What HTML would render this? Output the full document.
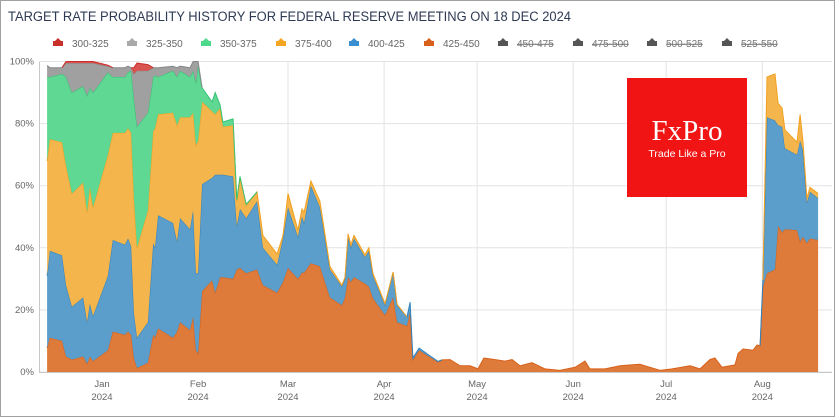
<!DOCTYPE html>
<html><head><meta charset="utf-8"><style>
html,body{margin:0;padding:0;background:#fff;}
#wrap{position:relative;width:835px;height:417px;overflow:hidden;font-family:"Liberation Sans",sans-serif;}
svg{position:absolute;left:0;top:0;}
</style></head><body>
<div id="wrap">
<svg id="chart" width="835" height="417"></svg>
</div>
<script>
const days=[-17.7,-16.8,-12.9,-11.6,-9.7,-6.1,-4.8,-3.9,-2.9,1.9,3.5,7.4,8.4,9.4,10.3,11.3,14.8,16.5,17.1,18.1,22.9,24.2,25.2,28.4,29.4,30.3,31,32.3,35.5,36.5,38.1,39,42.3,43.5,44.5,46.5,50,51.9,56.5,58.4,60,63.2,64.5,65.2,67.4,70.3,73.5,77.4,78.4,79.4,80.3,81.3,84.8,86.1,87.4,91.3,93.9,95.2,98.4,99.4,100.3,102.3,105.8,108.4,109.7,112.3,115.5,118.7,121.3,123.2,126.8,130,132.3,134.8,138.7,142.9,147.7,152.6,155.8,157.4,162.3,167.1,173.5,180,183.9,189.7,192.9,196.1,197.7,200,204.2,205.2,206.8,210,211.3,212.3,213.2,214.5,217.1,218.1,219.4,220.3,224.2,225.2,226.1,227.4,228.4,231];
const s425=[7.7,11,10,5,4,5,2.6,5,3.5,7,13,12,13,12,4.5,1.3,3,12,11,14,11,13,16,13.5,17.7,7,6,26,29.5,25.5,30.5,30.5,30,33,33.5,31.8,33,28,25.5,29,33.5,30,32,32,35,34,24,21.5,24,30.5,29,30.5,28.5,27.5,23.8,18.3,24,16,14.8,19.3,3.9,7,4.8,3.2,3.9,4,2,2,1,4.5,4,3.5,4,2,3,1,0.5,1.5,3.5,1,1,2,2.5,0.5,1,2,1,4,4.5,1.5,2.3,6,7.4,7,8.7,8.5,27.5,31.8,33,47,45,46,45.7,42,43.5,41.5,43,42.5];
const s400=[23.3,28,27.6,23,17,19,13.4,17,14.5,24,29.5,29,30,28.5,14.5,9.7,13,29.5,29,36.5,37,29,33.5,32.5,34.3,24.8,25.8,34.5,33,38,33,33,33,14,19,17.7,22,12,9,14,19.5,13.5,18,16,25,19,9,6,6,13,11,12.5,8.5,11.5,7.2,3.2,8,5.5,2.9,3.2,0.6,0.7,0.4,0.2,0,0,0,0,0,0,0,0,0,0,0,0,0,0,0,0,0,0,0,0,0,0,0,0,0,0,0,0,0,0,0,0,2.1,50.2,48,32.5,34,26,24.3,32.5,28,13,15,13.5];
const s375=[37,36,36.4,38.5,36.5,37,35.5,37.5,35,39,34.5,36,35.5,36.5,37,29,36,36,38.5,32.5,35.5,37.5,32.5,36,31.5,41.2,42.7,26.5,21.5,19.5,21.5,15.5,16.5,8,10,4.2,3,4,3.5,1,4.5,2.2,2.5,3.5,1.5,2,1,0.5,0.5,1,1,1,0.7,1,0.8,0.5,0.2,0.3,0,0,0,0,0,0,0,0,0,0,0,0,0,0,0,0,0,0,0,0,0,0,0,0,0,0,0,0,0,0,0,0,0,0,0,0,0,0,0,13,15,7,6,6,4,8.5,3,1.5,1.5,1.5];
const s350=[27,20,22,28.5,32.5,31,37.5,32,37,26.5,18,18,18,20,32,39,31.5,17.5,17,12,13.5,15.5,15,13,13.5,20,24.2,4.5,3,7,1,1.5,2,0.5,0.5,0.3,0,0,0,0,0,0,0,0,0,0,0,0,0,0,0,0,0,0,0,0,0,0,0,0,0,0,0,0,0,0,0,0,0,0,0,0,0,0,0,0,0,0,0,0,0,0,0,0,0,0,0,0,0,0,0,0,0,0,0,0,0,0,0,0,0,0,0,0,0,0,0,0];
const s325=[3.7,3,2,4.5,9.5,7.5,10.5,8,9.5,2,3,3,2,1,8,18,13.5,3,2.5,3,1.5,3,1.5,3,3,7,1.3,0,0,0,0,0,0,0,0,0,0,0,0,0,0,0,0,0,0,0,0,0,0,0,0,0,0,0,0,0,0,0,0,0,0,0,0,0,0,0,0,0,0,0,0,0,0,0,0,0,0,0,0,0,0,0,0,0,0,0,0,0,0,0,0,0,0,0,0,0,0,0,0,0,0,0,0,0,0,0,0,0];
const s300=[0,0,0,0.5,0.5,0.5,0.5,0.5,0.5,0.3,0,0,0,0,2,2.5,2,0,0,0,0,0,0,0,0,0,0,0,0,0,0,0,0,0,0,0,0,0,0,0,0,0,0,0,0,0,0,0,0,0,0,0,0,0,0,0,0,0,0,0,0,0,0,0,0,0,0,0,0,0,0,0,0,0,0,0,0,0,0,0,0,0,0,0,0,0,0,0,0,0,0,0,0,0,0,0,0,0,0,0,0,0,0,0,0,0,0,0];
const yTicks=[0,20,40,60,80,100];
const monthNames=["Jan","Feb","Mar","Apr","May","Jun","Jul","Aug"];
const monthDays=[0,31,60,91,121,152,182,213];
const legendLabels=["300-325","325-350","350-375","375-400","400-425","425-450","450-475","475-500","500-525","525-550"];

const NS="http://www.w3.org/2000/svg";
const svg=document.getElementById('chart');
const X0=102,PXD=3.1,Y0=372,Y1=61.5;
const xs=d=>X0+d*PXD;
const ys=v=>Y0-(v/100)*(Y0-Y1);
function mk(tag,attrs,parent){const e=document.createElementNS(NS,tag);for(const k in attrs)e.setAttribute(k,attrs[k]);(parent||svg).appendChild(e);return e;}

const frame=mk('rect',{x:0.5,y:0.5,width:834,height:416,fill:'#fff',stroke:'#a0a0a0'});


const title=mk('text',{x:8,y:21,'font-size':'13.5',fill:'#2f3b55',textLength:563,lengthAdjust:'spacingAndGlyphs'});
title.textContent='TARGET RATE PROBABILITY HISTORY FOR FEDERAL RESERVE MEETING ON 18 DEC 2024';



// legend
const legColors=['#c9302c','#a9a9a9','#4cd98a','#f5a623','#3a8fd0','#d9601a','#555','#555','#555','#555'];
const legX=[58,132,206,281,354,429,503,578,652,727];
legendLabels.forEach((lab,i)=>{
  const g=mk('g',{});
  
  
  mk('rect',{x:legX[i]-5,y:41,width:10,height:5,fill:legColors[i]},g);
  mk('path',{d:`M${legX[i]-3} 41 L${legX[i]} 38 L${legX[i]+3} 41 Z`,fill:legColors[i]},g);
  const t=mk('text',{x:legX[i]+14,y:47,'font-size':'10',fill:'#666'},g);
  t.textContent=lab;
  if(i>=6){t.setAttribute('text-decoration','line-through');t.setAttribute('fill','#777');}
});

// grid
yTicks.forEach(v=>{
  const l=mk('line',{x1:40,x2:832,y1:ys(v),y2:ys(v),stroke:'#e3e3e3'});
  
  
  const t=mk('text',{x:34,y:ys(v)+3,'font-size':'9.5',fill:'#666','text-anchor':'end'});
  t.textContent=v+'%';
  
  
});
monthDays.forEach((d,i)=>{
  const l=mk('line',{x1:xs(d),x2:xs(d),y1:Y1,y2:Y0,stroke:'#e3e3e3'});
  
  
  const t=mk('text',{x:xs(d),y:387,'font-size':'9.5',fill:'#666','text-anchor':'middle'});
  t.textContent=monthNames[i];
  
  
  const t2=mk('text',{x:xs(d),y:400,'font-size':'9.5',fill:'#666','text-anchor':'middle'});
  t2.textContent='2024';
  
  
});

// stacked areas
const series=[
 {name:'425-450',vals:s425,fill:'#de7b3a',line:'#d9601a'},
 {name:'400-425',vals:s400,fill:'#5b9ecb',line:'#2f82bf'},
 {name:'375-400',vals:s375,fill:'#f5b54d',line:'#f0a020'},
 {name:'350-375',vals:s350,fill:'#5fd894',line:'#36c274'},
 {name:'325-350',vals:s325,fill:'#a0a0a0',line:'#888'},
 {name:'300-325',vals:s300,fill:'#d9534f',line:'#c9302c'}
];
let base=days.map(()=>0);
series.forEach(s=>{
  const top=base.map((b,i)=>b+s.vals[i]);
  let d='M'+days.map((dd,i)=>xs(dd).toFixed(1)+' '+ys(top[i]).toFixed(1)).join(' L');
  for(let i=days.length-1;i>=0;i--) d+=' L'+xs(days[i]).toFixed(1)+' '+ys(base[i]).toFixed(1);
  d+=' Z';
  const p=mk('path',{d:d,fill:s.fill,stroke:'none'});
  
  
  // line only on segments where the series is non-zero
  let ld='',pen=false;
  for(let i=0;i<days.length-1;i++){
    if(s.vals[i]>0||s.vals[i+1]>0){
      if(!pen){ld+='M'+xs(days[i]).toFixed(1)+' '+ys(top[i]).toFixed(1);pen=true;}
      ld+=' L'+xs(days[i+1]).toFixed(1)+' '+ys(top[i+1]).toFixed(1);
    } else pen=false;
  }
  if(ld){
    const ln=mk('path',{d:ld,fill:'none',stroke:s.line,'stroke-width':1});
    
    
  }
  base=top;
});

// axes
const ax=mk('line',{x1:39.5,x2:39.5,y1:Y1,y2:Y0,stroke:'#c8c8c8'});


const bx=mk('line',{x1:39,x2:832,y1:Y0+0.5,y2:Y0+0.5,stroke:'#c8c8c8'});



// logo
const lg=mk('g',{});


mk('rect',{x:627,y:78,width:120,height:119,fill:'#f01414'},lg);
const lt=mk('text',{x:687,y:140,'font-size':'29','font-family':'Liberation Serif, serif',fill:'#fff','text-anchor':'middle'},lg);
lt.textContent='FxPro';
const lt2=mk('text',{x:687,y:157,'font-size':'10.5',fill:'#fff','text-anchor':'middle'},lg);
lt2.textContent='Trade Like a Pro';
</script>
</body></html>
